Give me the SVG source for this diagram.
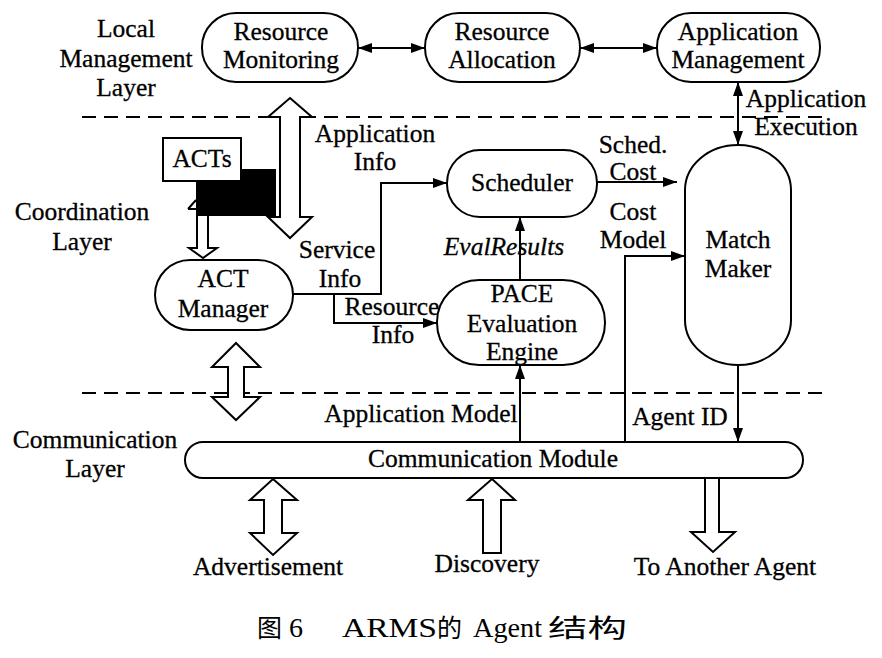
<svg xmlns="http://www.w3.org/2000/svg" width="882" height="658" viewBox="0 0 882 658">
<style>
.t{font-family:"Liberation Serif","Times New Roman",serif;font-size:25.5px;text-anchor:middle;fill:#000;stroke:#000;stroke-width:0.3}
.it{font-style:italic}
.cap{font-family:"Liberation Serif","Noto Sans CJK SC",serif;font-size:28px;fill:#000}
.cjk{font-family:"Noto Sans CJK SC",sans-serif;font-size:25px;fill:#000}
.node{fill:#fff;stroke:#000;stroke-width:2}
.ln{fill:none;stroke:#000;stroke-width:2}
.dash{fill:none;stroke:#000;stroke-width:2;stroke-dasharray:14 8}
.hollow{fill:#fff;stroke:#000;stroke-width:2;stroke-linejoin:miter}
</style>
<defs>
<marker id="ah" viewBox="0 0 14 10" refX="14" refY="5" markerWidth="14" markerHeight="10" markerUnits="userSpaceOnUse" orient="auto-start-reverse">
<path d="M0,0 L14,5 L0,10 z" fill="#000"/>
</marker>
</defs>
<rect width="882" height="658" fill="#fff"/>

<g id="layers">
<line class="dash" x1="82" y1="117" x2="828" y2="117"/>
<line class="dash" x1="82" y1="393" x2="828" y2="393"/>
<text class="t" x="126" y="37">Local</text>
<text class="t" x="126" y="67">Management</text>
<text class="t" x="126" y="96">Layer</text>
<text class="t" x="82" y="220">Coordination</text>
<text class="t" x="82" y="250">Layer</text>
<text class="t" x="95" y="448">Communication</text>
<text class="t" x="95" y="477">Layer</text>
</g>

<g id="connectors">
<line class="ln" x1="358" y1="48" x2="425" y2="48" marker-start="url(#ah)" marker-end="url(#ah)"/>
<line class="ln" x1="580" y1="48" x2="657" y2="48" marker-start="url(#ah)" marker-end="url(#ah)"/>
<line class="ln" x1="738" y1="82" x2="738" y2="145" marker-start="url(#ah)" marker-end="url(#ah)"/>
<line class="ln" x1="597" y1="182" x2="677" y2="182" marker-end="url(#ah)"/>
<line class="ln" x1="520" y1="280" x2="520" y2="217" marker-end="url(#ah)"/>
<path class="ln" d="M293,294 H381 V183 H447" marker-end="url(#ah)"/>
<path class="ln" d="M334,294 V323 H437" marker-end="url(#ah)"/>
<path class="ln" d="M625,442 V256 H685" marker-end="url(#ah)"/>
<line class="ln" x1="738" y1="365" x2="738" y2="442" marker-end="url(#ah)"/>
<line class="ln" x1="520" y1="442" x2="520" y2="365" marker-end="url(#ah)"/>
<polygon class="hollow" points="290,98 312,117 300,117 300,217 312,217 290,238 268,217 280,217 280,117 268,117"/>
<polygon class="hollow" points="197,212 208,212 208,248 217,248 203,258 189,248 197,248"/>
<polygon class="hollow" points="236,343 260,367 244,367 244,397 260,397 236,420 212,397 228,397 228,367 212,367"/>
<polygon class="hollow" points="273,479 297,500 282,500 282,533 297,533 273,555 250,533 264,533 264,500 250,500"/>
<polygon class="hollow" points="492,479 515,500 501,500 501,553 483,553 483,500 468,500"/>
<polygon class="hollow" points="705,478 719,478 719,532 735,532 713,552 691,532 705,532"/>
<text class="t" x="375" y="142">Application</text>
<text class="t" x="375" y="170">Info</text>
<text class="t" x="337" y="258">Service</text>
<text class="t" x="340" y="287">Info</text>
<text class="t" x="392" y="315">Resource</text>
<text class="t" x="393" y="343">Info</text>
<text class="t" x="633" y="153">Sched.</text>
<text class="t" x="633" y="180">Cost</text>
<text class="t it" x="504" y="255">EvalResults</text>
<text class="t" x="633" y="220">Cost</text>
<text class="t" x="633" y="248">Model</text>
<text class="t" x="806" y="107">Application</text>
<text class="t" x="806" y="135">Execution</text>
<text class="t" x="421" y="422">Application Model</text>
<text class="t" x="680" y="425">Agent ID</text>
<text class="t" x="268" y="575">Advertisement</text>
<text class="t" x="487" y="572">Discovery</text>
<text class="t" x="725" y="575">To Another Agent</text>
</g>

<g id="resource-monitoring">
<rect class="node" x="202" y="13" width="156" height="69" rx="34" ry="34"/>
<text class="t" x="281" y="40">Resource</text>
<text class="t" x="281" y="68">Monitoring</text>
</g>
<g id="resource-allocation">
<rect class="node" x="425" y="13" width="155" height="69" rx="34" ry="34"/>
<text class="t" x="502" y="40">Resource</text>
<text class="t" x="502" y="68">Allocation</text>
</g>
<g id="application-management">
<rect class="node" x="657" y="13" width="163" height="69" rx="34" ry="34"/>
<text class="t" x="738" y="40">Application</text>
<text class="t" x="738" y="68">Management</text>
</g>
<g id="scheduler">
<rect class="node" x="447" y="150" width="150" height="67" rx="33" ry="33"/>
<text class="t" x="522" y="191">Scheduler</text>
</g>
<g id="match-maker">
<rect class="node" x="685" y="145" width="106" height="220" rx="53" ry="45"/>
<text class="t" x="738" y="248">Match</text>
<text class="t" x="738" y="277">Maker</text>
</g>
<g id="acts">
<path class="ln" d="M188,209 L196,200 M188,209 H196"/>
<rect x="196" y="169" width="80" height="47" fill="#000"/>
<rect class="node" x="163" y="138" width="78" height="43"/>
<text class="t" x="202" y="167">ACTs</text>
</g>
<g id="act-manager">
<rect class="node" x="155" y="260" width="138" height="70" rx="35" ry="35"/>
<text class="t" x="223" y="287">ACT</text>
<text class="t" x="223" y="317">Manager</text>
</g>
<g id="pace">
<rect class="node" x="437" y="280" width="168" height="85" rx="42" ry="42"/>
<text class="t" x="522" y="302">PACE</text>
<text class="t" x="522" y="332">Evaluation</text>
<text class="t" x="522" y="360">Engine</text>
</g>
<g id="communication-module">
<rect class="node" x="185" y="442" width="618" height="36" rx="18" ry="18"/>
<text class="t" x="493" y="467">Communication Module</text>
</g>

<g id="caption">
<text class="cjk" x="257" y="637">图</text>
<text class="cap" x="289" y="637">6</text>
<text class="cap" x="342" y="637" textLength="95" lengthAdjust="spacingAndGlyphs">ARMS</text>
<text class="cjk" x="437" y="637">的</text>
<text class="cap" x="473" y="637" textLength="69" lengthAdjust="spacingAndGlyphs">Agent</text>
<text class="cjk" x="548" y="637" textLength="79" lengthAdjust="spacingAndGlyphs">结构</text>
</g>
</svg>
